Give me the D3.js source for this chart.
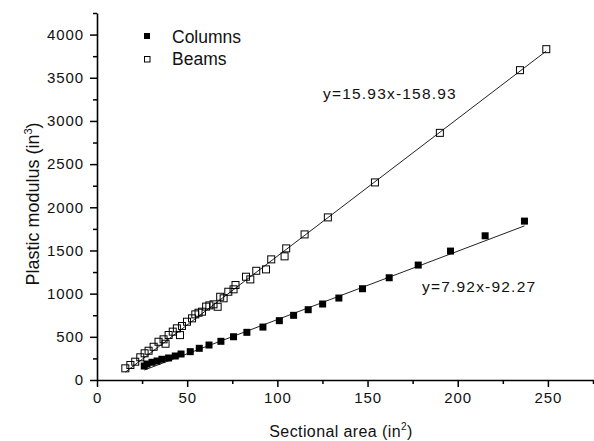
<!DOCTYPE html>
<html>
<head>
<meta charset="utf-8">
<script src="https://cdn.jsdelivr.net/npm/d3@7"></script>
<style>
    body { margin: 0; background: #fff; }
    text { font-family: Arial, "Liberation Sans", sans-serif; fill: #111; }
</style>
</head>
<body>
<div id="chart"></div>
<script>
// Beams: [sectional area, plastic modulus]
const beams = [
    [15.7, 135], [18.5, 174], [21.2, 212], [24.0, 263], [26.4, 309], [28.6, 339],
    [31.4, 385], [34.1, 443], [36.9, 471], [38.0, 420], [39.7, 521], [42.0, 560],
    [44.3, 598], [46.0, 520], [47.1, 625], [49.9, 675], [52.7, 714], [54.5, 760],
    [56.3, 779], [58.2, 791], [60.5, 850], [62.3, 864], [64.6, 876], [66.9, 848],
    [68.3, 964], [70.2, 946], [72.8, 1022], [75.7, 1050], [76.8, 1100], [82.6, 1196],
    [85.0, 1165], [88.3, 1265], [93.7, 1281], [96.6, 1397], [104.0, 1432], [104.9, 1524],
    [115.1, 1686], [128.0, 1883], [154.1, 2288], [190.1, 2862], [234.5, 3588], [249.1, 3831]
];
// Columns
const columns = [
    [26.2, 162], [27.7, 185], [30.5, 205], [33.3, 220], [36.0, 240], [39.7, 255],
    [43.4, 278], [46.6, 301], [51.7, 328], [56.7, 367], [62.1, 405], [68.7, 448],
    [75.7, 501], [83.1, 552], [92.0, 613], [101.1, 687], [109.0, 749], [117.1, 814],
    [125.1, 880], [134.1, 949], [147.2, 1057], [162.0, 1184], [178.1, 1331], [196.0, 1493],
    [215.2, 1670], [237.0, 1840]
];
// fitted lines
const beamFit = {slope: 15.93, intercept: -158.93, label: "y=15.93x-158.93"};
const columnFit = {slope: 7.92, intercept: -92.27, label: "y=7.92x-92.27"};

const xMajor = [0, 50, 100, 150, 200, 250];
const yMajor = [0, 500, 1000, 1500, 2000, 2500, 3000, 3500, 4000];

const width = 594, height = 441;
const svg = d3.select("#chart").append("svg")
    .attr("width", width)
    .attr("height", height);

const x = d3.scaleLinear().domain([0, 275]).range([97, 593]);
const y = d3.scaleLinear().domain([0, 4250]).range([380, 13]);

// minor ticks
svg.append("g")
    .attr("transform", `translate(0,${y(0)})`)
    .call(d3.axisBottom(x).tickValues(d3.range(25, 276, 50)).tickSize(4).tickFormat(""))
    .call(g => g.select(".domain").remove());
svg.append("g")
    .attr("transform", `translate(${x(0)},0)`)
    .call(d3.axisLeft(y).tickValues(d3.range(250, 4251, 500)).tickSize(4).tickFormat(""))
    .call(g => g.select(".domain").remove());

// major axes
svg.append("g")
    .attr("transform", `translate(0,${y(0)})`)
    .call(d3.axisBottom(x).tickValues(xMajor).tickFormat(d3.format("d"))
        .tickSize(7).tickSizeOuter(0).tickPadding(5));
svg.append("g")
    .attr("transform", `translate(${x(0)},0)`)
    .call(d3.axisLeft(y).tickValues(yMajor).tickFormat(d3.format("d"))
        .tickSize(7).tickSizeOuter(0).tickPadding(6));

svg.selectAll(".tick line").attr("stroke", "#000").attr("stroke-width", 1.5);
svg.selectAll(".domain").attr("stroke", "#000").attr("stroke-width", 1.6);
svg.selectAll(".tick text")
    .attr("font-size", 15)
    .attr("letter-spacing", 0.9)
    .attr("font-family", "Arial, 'Liberation Sans', sans-serif")
    .attr("fill", "#111");

// fit lines
const line = d3.line().x(d => x(d[0])).y(d => y(d[1]));
function fitLine(fit, data) {
    const ext = d3.extent(data, d => d[0]);
    return ext.map(v => [v, fit.slope * v + fit.intercept]);
}
svg.append("path")
    .attr("d", line(fitLine(beamFit, beams)))
    .attr("fill", "none").attr("stroke", "#222").attr("stroke-width", 1);
svg.append("path")
    .attr("d", line(fitLine(columnFit, columns)))
    .attr("fill", "none").attr("stroke", "#222").attr("stroke-width", 1);

// markers
const s = 7;
svg.append("g").selectAll("rect")
    .data(columns)
    .join("rect")
        .attr("x", d => x(d[0]) - s / 2)
        .attr("y", d => y(d[1]) - s / 2)
        .attr("width", s)
        .attr("height", s)
        .attr("fill", "#000");
svg.append("g").selectAll("rect")
    .data(beams)
    .join("rect")
        .attr("x", d => x(d[0]) - s / 2)
        .attr("y", d => y(d[1]) - s / 2)
        .attr("width", s)
        .attr("height", s)
        .attr("fill", "none")
        .attr("stroke", "#000")
        .attr("stroke-width", 1);

// equation labels
svg.append("text").attr("x", 323).attr("y", 99)
    .attr("font-size", 15.5).attr("letter-spacing", 1.2).text(beamFit.label);
svg.append("text").attr("x", 422).attr("y", 292)
    .attr("font-size", 15.5).attr("letter-spacing", 1.2).text(columnFit.label);

// legend
const legend = svg.append("g");
legend.append("rect").attr("x", 144).attr("y", 33).attr("width", 6).attr("height", 6).attr("fill", "#000");
legend.append("rect").attr("x", 144.5).attr("y", 56.5).attr("width", 5.5).attr("height", 5.5)
    .attr("fill", "none").attr("stroke", "#000");
legend.append("text").attr("x", 172).attr("y", 42.5).attr("font-size", 17.5).text("Columns");
legend.append("text").attr("x", 172).attr("y", 64.5).attr("font-size", 17.5).text("Beams");

// axis titles
const xt = svg.append("text").attr("x", 341).attr("y", 437)
    .attr("text-anchor", "middle").attr("font-size", 16).attr("letter-spacing", 0.4);
xt.append("tspan").text("Sectional area (in");
xt.append("tspan").attr("dy", -7).attr("font-size", 10).text("2");
xt.append("tspan").attr("dy", 7).text(")");

const yt = svg.append("text")
    .attr("transform", "translate(39,204) rotate(-90)")
    .attr("text-anchor", "middle").attr("font-size", 18);
yt.append("tspan").text("Plastic modulus (in");
yt.append("tspan").attr("dy", -7).attr("font-size", 11).text("3");
yt.append("tspan").attr("dy", 7).text(")");
</script>
</body>
</html>
